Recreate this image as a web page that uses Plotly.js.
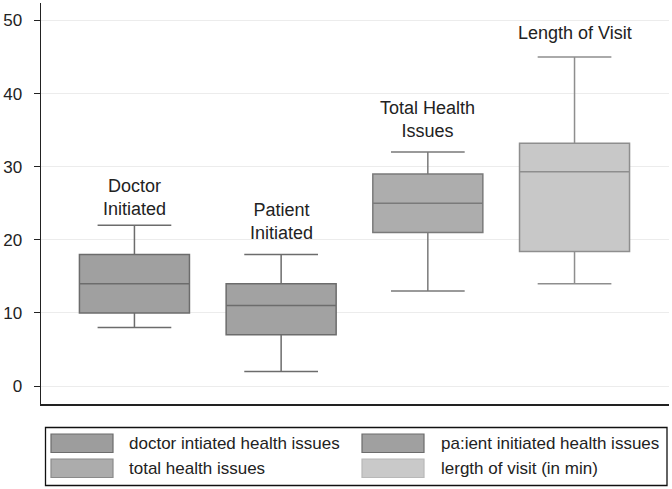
<!DOCTYPE html>
<html>
<head>
<meta charset="utf-8">
<script src="https://cdn.plot.ly/plotly-3.0.1.min.js"></script>
<style>html,body{margin:0;padding:0;background:#fff;}#chart{width:672px;height:489px;}</style>
</head>
<body>
<div id="chart"></div>
<script>
// ---- data ----
var boxLabels = ["Doctor<br>Initiated", "Patient<br>Initiated", "Total Health<br>Issues", "Length of Visit"];
var legendNames = ["doctor intiated health issues", "pa:ient initiated health issues", "total health issues", "lergth of visit (in min)"];
var lowerWhisker = [8, 2, 13, 14];
var q1Values = [10, 7, 21, 18.4];
var medianValues = [14, 11, 25, 29.3];
var q3Values = [18, 14, 29, 33.2];
var upperWhisker = [22, 18, 32, 45];
var yTicks = [0, 10, 20, 30, 40, 50];

// ---- style ----
var fillColors = ["#a0a0a0", "#a2a2a2", "#adadad", "#c8c8c8"];
var lineColors = ["#6c6c6c", "#6c6c6c", "#7a7a7a", "#8e8e8e"];
var legendFill = ["#9d9d9d", "#a0a0a0", "#acacac", "#c9c9c9"];
var legendLine = ["#6c6c6c", "#6c6c6c", "#8a8a8a", "#b8b8b8"];
var labelShift = [4, 9, 9, 12];

var W = 672, H = 489;
var M = {l: 41, r: 3, t: 3, b: 85};
var plotW = W - M.l - M.r, plotH = H - M.t - M.b;
function px2x(px) { return (px - M.l) / plotW; }
function py2y(py) { return (H - M.b - py) / plotH; }

var traces = [];
for (var i = 0; i < boxLabels.length; i++) {
  traces.push({
    type: "box",
    name: legendNames[i],
    x: [i],
    q1: [q1Values[i]],
    median: [medianValues[i]],
    q3: [q3Values[i]],
    lowerfence: [lowerWhisker[i]],
    upperfence: [upperWhisker[i]],
    width: 0.75,
    whiskerwidth: 0.67,
    boxpoints: false,
    fillcolor: fillColors[i],
    line: {color: lineColors[i], width: 1.5},
    showlegend: false,
    hoverinfo: "skip"
  });
}

var annotations = [];
for (var j = 0; j < boxLabels.length; j++) {
  annotations.push({
    x: j, y: upperWhisker[j], xref: "x", yref: "y",
    text: boxLabels[j], showarrow: false,
    xanchor: "center", yanchor: "bottom", yshift: labelShift[j],
    font: {family: "Liberation Sans, Arial, sans-serif", size: 18, color: "#222"}
  });
}

// manual legend (swatch boxes + labels)
var shapes = [];
shapes.push({type: "rect", xref: "paper", yref: "paper",
  x0: px2x(45.5), x1: px2x(667), y0: py2y(427.5), y1: py2y(485.5),
  line: {color: "#111", width: 1.3}, fillcolor: "rgba(0,0,0,0)"});
var colSwatch = [[51, 113], [362, 424]];
var colText = [127, 439];
var rowY = [[434, 452.5], [459, 477.5]];
for (var k = 0; k < legendNames.length; k++) {
  var c = k % 2, r = Math.floor(k / 2);
  shapes.push({type: "rect", xref: "paper", yref: "paper",
    x0: px2x(colSwatch[c][0]), x1: px2x(colSwatch[c][1]),
    y0: py2y(rowY[r][0]), y1: py2y(rowY[r][1]),
    line: {color: legendLine[k], width: 1.2}, fillcolor: legendFill[k]});
  annotations.push({xref: "paper", yref: "paper",
    x: px2x(colText[c]), y: py2y((rowY[r][0] + rowY[r][1]) / 2),
    xanchor: "left", yanchor: "middle", showarrow: false,
    text: legendNames[k],
    font: {family: "Liberation Sans, Arial, sans-serif", size: 17, color: "#222"}});
}

var layout = {
  width: W, height: H,
  margin: M,
  paper_bgcolor: "#fff", plot_bgcolor: "#fff",
  showlegend: false,
  font: {family: "Liberation Sans, Arial, sans-serif", size: 16, color: "#222"},
  xaxis: {range: [-0.637, 3.644], showticklabels: false, ticks: "", showgrid: false,
    zeroline: false, showline: true, linecolor: "#222", linewidth: 2},
  yaxis: {range: [-2.46, 52.4], tickvals: yTicks, ticktext: yTicks.map(String),
    ticks: "outside", ticklen: 6, tickcolor: "#222", tickwidth: 1,
    ticklabelstandoff: 8,
    showgrid: true, gridcolor: "#ececec", gridwidth: 1, zeroline: false,
    showline: true, linecolor: "#222", linewidth: 1.5,
    tickfont: {size: 17, color: "#222"}},
  shapes: shapes,
  annotations: annotations
};

Plotly.newPlot("chart", traces, layout, {staticPlot: true, displayModeBar: false});
</script>
</body>
</html>
